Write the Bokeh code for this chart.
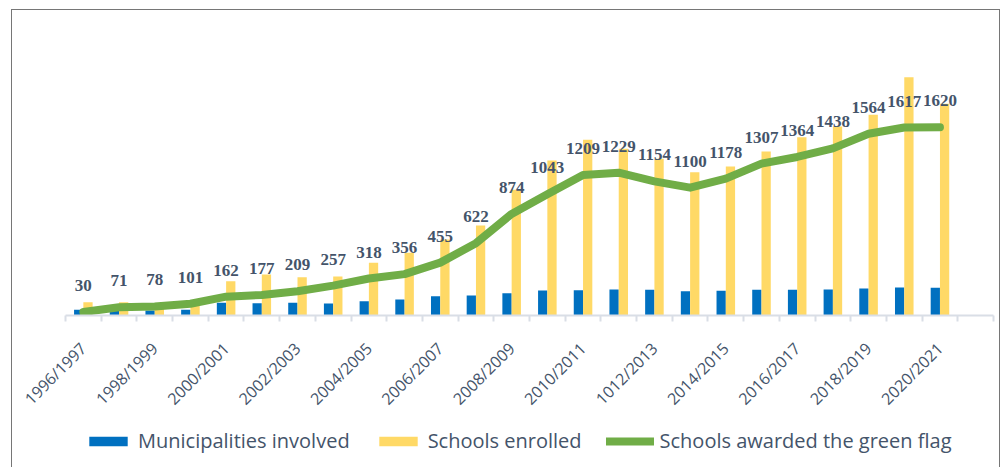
from math import pi

from bokeh.plotting import figure
from bokeh.layouts import column, row
from bokeh.models import (ColumnDataSource, Range1d, FixedTicker, Legend,
                          LegendItem, LabelSet, Spacer)
from bokeh.transform import dodge
from bokeh.embed import file_html
from bokeh.resources import INLINE

# ---------------- data ----------------
seasons = ["1996/1997", "1997/1998", "1998/1999", "1999/2000", "2000/2001",
           "2001/2002", "2002/2003", "2003/2004", "2004/2005", "2005/2006",
           "2006/2007", "2007/2008", "2008/2009", "2009/2010", "2010/2011",
           "2011/2012", "1012/2013", "2013/2014", "2014/2015", "2015/2016",
           "2016/2017", "2017/2018", "2018/2019", "2019/2020", "2020/2021"]

municipalities = [49, 43, 43, 49, 109, 106, 109, 103, 123, 138, 166, 172, 192,
                  215, 218, 224, 221, 209, 212, 221, 221, 224, 232, 241, 238]

schools_enrolled = [114, 114, 100, 110, 295, 353, 330, 336, 453, 539, 654, 774,
                    1081, 1334, 1512, 1434, 1348, 1233, 1282, 1411, 1534, 1626,
                    1727, 2050, 1821]

green_flag = [30, 71, 78, 101, 162, 177, 209, 257, 318, 356, 455, 622, 874,
              1043, 1209, 1229, 1154, 1100, 1178, 1307, 1364, 1438, 1564,
              1617, 1620]

series_names = ["Municipalities involved", "Schools enrolled",
                "Schools awarded the green flag"]

# ---------------- styling ----------------
BLUE = "#0070c0"
YELLOW = "#ffd966"
GREEN = "#70ad47"
TEXT = "#44546a"
AXIS = "#d9dee6"
FONT = "Open Sans"
BOLD_FONT = "Lato"

n = len(seasons)
n_slots = n + 1  # the reference axis keeps one empty slot at the right
centers = [i + 0.5 for i in range(n)]

src = ColumnDataSource(data=dict(
    x=centers,
    season=seasons,
    municipalities=municipalities,
    enrolled=schools_enrolled,
    green=green_flag,
    label=[str(v) for v in green_flag],
))

bw = 0.26


def add_series(fig):
    rb = fig.vbar(x=dodge("x", -bw / 2, range=fig.x_range), top="municipalities",
                  width=bw, bottom=0, source=src, fill_color=BLUE,
                  line_color=None)
    ry = fig.vbar(x=dodge("x", bw / 2, range=fig.x_range), top="enrolled",
                  width=bw, bottom=0, source=src, fill_color=YELLOW,
                  line_color=None)
    rg = fig.line(x="x", y="green", source=src, line_color=GREEN, line_width=8,
                  line_cap="round", line_join="round")
    return rb, ry, rg


W = 987
p = figure(width=W, height=412, output_backend="svg", toolbar_location=None,
           x_range=Range1d(0, n_slots), y_range=Range1d(0, 2538),
           min_border_left=53, min_border_right=6, min_border_top=10,
           min_border_bottom=107, y_axis_location=None)
p.outline_line_color = None
p.grid.visible = False

add_series(p)

labels = LabelSet(x="x", y="green", text="label", source=src, y_offset=21,
                  text_align="center", text_baseline="alphabetic",
                  text_font=BOLD_FONT, text_font_style="bold",
                  text_font_size="17px", text_color=TEXT)
p.add_layout(labels)

# x axis: minor ticks on slot boundaries, labels on every other season
ax = p.xaxis[0]
ax.ticker = FixedTicker(ticks=centers[::2], minor_ticks=list(range(n_slots + 1)))
ax.major_label_overrides = {centers[i]: seasons[i] for i in range(0, n, 2)}
ax.major_label_orientation = pi / 4
ax.major_label_text_font = FONT
ax.major_label_text_font_size = "16px"
ax.major_label_text_color = TEXT
ax.major_label_standoff = 24
ax.major_tick_line_color = None
ax.major_tick_out = 0
ax.major_tick_in = 0
ax.minor_tick_line_color = AXIS
ax.minor_tick_line_width = 2
ax.minor_tick_out = 6
ax.minor_tick_in = 0
ax.axis_line_color = AXIS
ax.axis_line_width = 2

# ---------------- legend strip below the chart ----------------
# same series drawn into a range where they stay out of view; only the
# legend of this strip is visible
q = figure(width=W, height=45, output_backend="svg", toolbar_location=None,
           x_range=Range1d(0, n_slots), y_range=Range1d(10000, 10001),
           x_axis_location=None, y_axis_location=None,
           min_border_left=0, min_border_right=0, min_border_top=0,
           min_border_bottom=0)
q.grid.visible = False
q.outline_line_color = None

k_blue, k_yellow, k_green = add_series(q)

legend = Legend(items=[
    LegendItem(label=series_names[0], renderers=[k_blue]),
    LegendItem(label=series_names[1], renderers=[k_yellow]),
    LegendItem(label=series_names[2], renderers=[k_green]),
], orientation="horizontal", location=(19, 13))
legend.glyph_width = 48
legend.glyph_height = 12
legend.label_standoff = 6
legend.spacing = 24
legend.padding = 0
legend.margin = 0
legend.border_line_color = None
legend.background_fill_alpha = 0
legend.label_text_font = FONT
legend.label_text_font_size = "20px"
legend.label_text_color = TEXT
q.add_layout(legend)

framed = column(p, q, spacing=0, styles={
    "border-left": "1px solid #767676",
    "border-top": "1px solid #767676",
    "border-right": "1px solid #767676",
})

layout = row(Spacer(width=11, height=1),
             column(Spacer(width=1, height=9), framed, spacing=0),
             spacing=0)

open("out.html", "w").write(file_html(layout, INLINE))
